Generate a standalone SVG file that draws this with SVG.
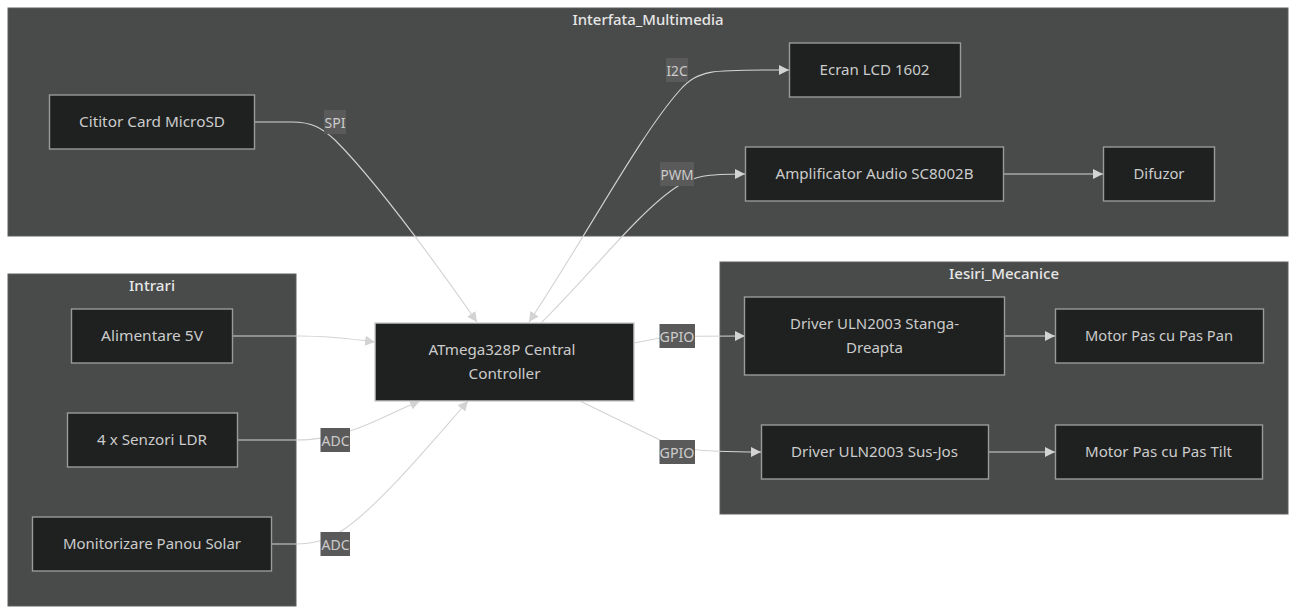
<svg xmlns="http://www.w3.org/2000/svg" width="1297" height="614" viewBox="0 0 1297 614">
<style>
text{font-family:"Noto Sans","DejaVu Sans",sans-serif;font-size:14px;fill:#ccc;text-anchor:middle;dominant-baseline:central}
.cluster{fill:#494b4a;stroke:#5c5e5d;stroke-width:1}
.title{fill:#e6e6e6;font-weight:500}
.node rect{fill:#1f2120;stroke:#999b9a;stroke-width:1.4}
.edge{fill:none;stroke:#d3d3d3;stroke-width:1.1}
.lab{fill:#5a5a5a}
.lt{font-size:15px}
</style>
<defs>
<marker id="arrow" markerUnits="userSpaceOnUse" markerWidth="11" markerHeight="10" refX="10" refY="5" orient="auto-start-reverse"><path d="M0 0L10 5L0 10z" fill="#d3d3d3"/></marker>
</defs>
<g id="clusters">
<g id="Interfata_Multimedia"><rect class="cluster" x="8" y="8" width="1280" height="228"/><text class="title" x="648" y="19" textLength="151" lengthAdjust="spacingAndGlyphs">Interfata_Multimedia</text></g>
<g id="Intrari"><rect class="cluster" x="8" y="274" width="288" height="332"/><text class="title" x="152" y="285" textLength="46" lengthAdjust="spacingAndGlyphs">Intrari</text></g>
<g id="Iesiri_Mecanice"><rect class="cluster" x="720" y="262" width="568" height="252"/><text class="title" x="1004" y="273" textLength="110" lengthAdjust="spacingAndGlyphs">Iesiri_Mecanice</text></g>
</g>
<g id="connectors">
<path class="edge" d="M255 122H292C312 122 322 128 335 140C375 180 430 255 477 322" marker-end="url(#arrow)"/>
<path class="edge" d="M529 322C590 230 640 135 680 90C700 68 715 70 789 70" marker-start="url(#arrow)" marker-end="url(#arrow)"/>
<path class="edge" d="M541 323C590 275 640 210 678 186C695 176 705 174 745 174" marker-end="url(#arrow)"/>
<path class="edge" d="M1004 174H1103" marker-end="url(#arrow)"/>
<path class="edge" d="M233 336H300C325 336 345 338 375 342" marker-end="url(#arrow)"/>
<path class="edge" d="M237 440H295C315 440 325 438 350 431C375 423 395 411 420 401" marker-end="url(#arrow)"/>
<path class="edge" d="M271 544H295C315 544 325 540 340 532C375 510 425 450 468 401" marker-end="url(#arrow)"/>
<path class="edge" d="M634 343L660 338C675 336 690 336 745 336" marker-end="url(#arrow)"/>
<path class="edge" d="M580 401L660 440C675 447 685 452 761 452" marker-end="url(#arrow)"/>
<path class="edge" d="M1005 336H1055" marker-end="url(#arrow)"/>
<path class="edge" d="M988 452H1055" marker-end="url(#arrow)"/>
</g>
<g id="edge-labels">
<g><rect class="lab" x="324" y="110" width="22" height="24"/><text class="lt" x="335" y="121.500" textLength="21" lengthAdjust="spacingAndGlyphs">SPI</text></g>
<g><rect class="lab" x="666" y="58" width="22" height="24"/><text class="lt" x="677" y="69.500" textLength="21" lengthAdjust="spacingAndGlyphs">I2C</text></g>
<g><rect class="lab" x="660" y="162" width="34" height="24"/><text class="lt" x="677" y="173.500" textLength="33" lengthAdjust="spacingAndGlyphs">PWM</text></g>
<g><rect class="lab" x="320.500" y="428" width="29.500" height="24"/><text class="lt" x="335.500" y="439.500" textLength="28" lengthAdjust="spacingAndGlyphs">ADC</text></g>
<g><rect class="lab" x="320.500" y="532" width="29.500" height="24"/><text class="lt" x="335.500" y="543.500" textLength="28" lengthAdjust="spacingAndGlyphs">ADC</text></g>
<g><rect class="lab" x="659.500" y="324" width="35.500" height="24"/><text class="lt" x="677" y="335.500" textLength="35" lengthAdjust="spacingAndGlyphs">GPIO</text></g>
<g><rect class="lab" x="659.500" y="440" width="35.500" height="24"/><text class="lt" x="677" y="451.500" textLength="35" lengthAdjust="spacingAndGlyphs">GPIO</text></g>
</g>
<g id="n-sd" class="node"><rect x="49.500" y="95" width="205" height="54"/><text x="152" y="121" textLength="146" lengthAdjust="spacingAndGlyphs">Cititor Card MicroSD</text></g>
<g id="n-lcd" class="node"><rect x="789.500" y="43" width="171" height="54"/><text x="874.500" y="69" textLength="110" lengthAdjust="spacingAndGlyphs">Ecran LCD 1602</text></g>
<g id="n-amp" class="node"><rect x="745.500" y="147" width="258" height="54"/><text x="874.500" y="173" textLength="198" lengthAdjust="spacingAndGlyphs">Amplificator Audio SC8002B</text></g>
<g id="n-dif" class="node"><rect x="1103.500" y="147" width="111" height="54"/><text x="1159" y="173" textLength="51" lengthAdjust="spacingAndGlyphs">Difuzor</text></g>
<g id="n-atm" class="node"><rect x="375" y="323" width="259" height="78" style="stroke:#ccc"/><text x="502" y="349" textLength="147" lengthAdjust="spacingAndGlyphs">ATmega328P Central</text><text x="504.500" y="373" textLength="72" lengthAdjust="spacingAndGlyphs">Controller</text></g>
<g id="n-ali" class="node"><rect x="71.500" y="309" width="161" height="54"/><text x="152" y="335" textLength="102" lengthAdjust="spacingAndGlyphs">Alimentare 5V</text></g>
<g id="n-ldr" class="node"><rect x="67.500" y="413" width="170" height="54"/><text x="152" y="439" textLength="110" lengthAdjust="spacingAndGlyphs">4 x Senzori LDR</text></g>
<g id="n-mon" class="node"><rect x="32.500" y="517" width="239" height="54"/><text x="152" y="543" textLength="178" lengthAdjust="spacingAndGlyphs">Monitorizare Panou Solar</text></g>
<g id="n-d1" class="node"><rect x="744.500" y="297" width="260" height="78"/><text x="874.500" y="323" textLength="169" lengthAdjust="spacingAndGlyphs">Driver ULN2003 Stanga-</text><text x="874.500" y="347" textLength="57" lengthAdjust="spacingAndGlyphs">Dreapta</text></g>
<g id="n-d2" class="node"><rect x="761.500" y="425" width="227" height="54"/><text x="874.500" y="451" textLength="167" lengthAdjust="spacingAndGlyphs">Driver ULN2003 Sus-Jos</text></g>
<g id="n-m1" class="node"><rect x="1055.500" y="309" width="208" height="54"/><text x="1159" y="335" textLength="148" lengthAdjust="spacingAndGlyphs">Motor Pas cu Pas Pan</text></g>
<g id="n-m2" class="node"><rect x="1055.500" y="425" width="207" height="54"/><text x="1158.500" y="451" textLength="147" lengthAdjust="spacingAndGlyphs">Motor Pas cu Pas Tilt</text></g>
</svg>
